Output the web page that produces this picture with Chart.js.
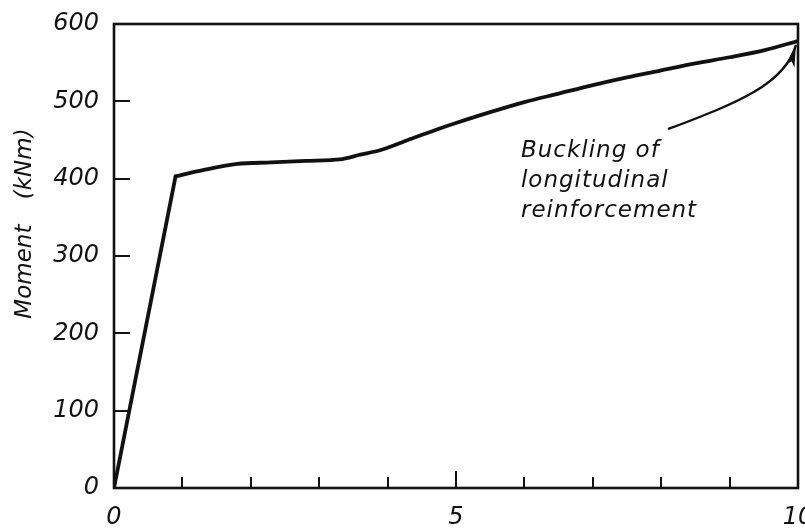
<!DOCTYPE html>
<html>
<head>
<meta charset="utf-8">
<script src="https://cdn.jsdelivr.net/npm/chart.js@4.4.1/dist/chart.umd.min.js"></script>
<style>
  html, body { margin: 0; padding: 0; background: #fff; }
</style>
</head>
<body>
<canvas id="chart" width="805" height="531"></canvas>
<script>
// Moment–rotation response of the column
const rotation = [0, 0.9, 1.3, 1.8, 2.3, 2.8, 3.3, 3.6, 3.9, 4.3, 4.7, 5.0, 5.5, 6.0, 6.5, 7.0, 7.5, 8.0, 8.5, 9.0, 9.5, 10];
const moment   = [0, 403, 411, 419, 421, 423, 425, 431, 437, 450, 463, 472, 486, 499, 510, 521, 531, 540, 549, 557, 566, 578];
// index of the yield point: straight elastic branch before it, smooth branch after it
const yieldIndex = 1;

// Axis ranges and labelled ticks
const xRange = [0, 10];
const xLabelled = [0, 5, 10];
const yRange = [0, 600];
const yStep = 100;
const yTitle = 'Moment (kNm)';

// Annotation: text anchored at a data point, arrow as a cubic curve in data units
const noteLines = ['Buckling of', 'longitudinal', 'reinforcement'];
const noteAnchor = { x: 5.95, y: 428 };
const arrowCurve = [
  { x: 8.10, y: 464 },
  { x: 9.08, y: 497 },
  { x: 9.81, y: 521 },
  { x: 9.97, y: 573 }
];

const INK = '#111';

const points = rotation.map((r, i) => ({ x: r, y: moment[i] }));

const framePlugin = {
  id: 'frame',
  afterDraw(chart) {
    const { ctx, chartArea: a, scales: { x, y } } = chart;
    ctx.save();
    ctx.strokeStyle = INK;
    ctx.lineWidth = 2.6;
    ctx.lineCap = 'square';
    ctx.strokeRect(a.left, a.top, a.right - a.left, a.bottom - a.top);

    // inward tick marks
    ctx.lineWidth = 2;
    ctx.lineCap = 'butt';
    x.ticks.forEach(t => {
      if (t.value <= xRange[0] || t.value >= xRange[1]) return;
      const px = Math.round(x.getPixelForValue(t.value));
      const len = xLabelled.includes(t.value) ? 17 : 11;
      ctx.beginPath();
      ctx.moveTo(px, a.bottom);
      ctx.lineTo(px, a.bottom - len);
      ctx.stroke();
    });
    y.ticks.forEach(t => {
      if (t.value <= yRange[0] || t.value >= yRange[1]) return;
      const py = Math.round(y.getPixelForValue(t.value));
      ctx.beginPath();
      ctx.moveTo(a.left, py);
      ctx.lineTo(a.left + 16, py);
      ctx.stroke();
    });

    // vertical axis title
    ctx.fillStyle = INK;
    ctx.font = 'italic 23px "DejaVu Sans"';
    if ('wordSpacing' in ctx) ctx.wordSpacing = '18px';
    ctx.textAlign = 'center';
    ctx.textBaseline = 'middle';
    ctx.translate(25, y.getPixelForValue(342));
    ctx.rotate(-Math.PI / 2);
    ctx.fillText(yTitle, 0, 0);
    ctx.restore();

    // annotation text
    ctx.save();
    ctx.fillStyle = INK;
    ctx.font = 'italic 23px "DejaVu Sans"';
    if ('letterSpacing' in ctx) ctx.letterSpacing = '1px';
    ctx.textAlign = 'left';
    ctx.textBaseline = 'alphabetic';
    const tx = x.getPixelForValue(noteAnchor.x);
    const ty = y.getPixelForValue(noteAnchor.y);
    noteLines.forEach((line, i) => ctx.fillText(line, tx, ty + i * 30));
    ctx.restore();

    // annotation arrow
    const p = arrowCurve.map(q => ({ x: x.getPixelForValue(q.x), y: y.getPixelForValue(q.y) }));
    ctx.save();
    ctx.strokeStyle = INK;
    ctx.fillStyle = INK;
    ctx.lineWidth = 2.4;
    ctx.beginPath();
    ctx.moveTo(p[0].x, p[0].y);
    ctx.bezierCurveTo(p[1].x, p[1].y, p[2].x, p[2].y, p[3].x, p[3].y);
    ctx.stroke();
    const ang = Math.atan2(p[3].y - p[2].y, p[3].x - p[2].x);
    const L = 22, W = 4.5;
    ctx.translate(p[3].x, p[3].y);
    ctx.rotate(ang);
    ctx.beginPath();
    ctx.moveTo(0, 0);
    ctx.lineTo(-L, -W);
    ctx.lineTo(-L + 5, 0);
    ctx.lineTo(-L, W);
    ctx.closePath();
    ctx.fill();
    ctx.restore();
  }
};

const lineStyle = {
  borderColor: INK,
  borderWidth: 3.8,
  pointRadius: 0,
  fill: false,
  borderJoinStyle: 'round',
  borderCapStyle: 'round'
};

new Chart(document.getElementById('chart'), {
  type: 'line',
  data: {
    datasets: [
      Object.assign({ data: points.slice(0, yieldIndex + 1), tension: 0 }, lineStyle),
      Object.assign({ data: points.slice(yieldIndex), tension: 0.3 }, lineStyle)
    ]
  },
  options: {
    responsive: false,
    devicePixelRatio: 1,
    animation: false,
    layout: { padding: { left: 0, right: 7, top: 24, bottom: 0 } },
    plugins: { legend: { display: false }, tooltip: { enabled: false } },
    scales: {
      x: {
        type: 'linear',
        min: xRange[0],
        max: xRange[1],
        grid: { display: false, drawTicks: false },
        border: { display: false },
        ticks: {
          stepSize: 1,
          autoSkip: false,
          maxRotation: 0,
          padding: 15,
          color: INK,
          font: { family: 'DejaVu Sans', size: 24, style: 'italic' },
          callback: v => (xLabelled.includes(v) ? String(v) : '')
        },
        afterFit(s) { s.height = 43; s.paddingLeft = 0; s.paddingRight = 0; }
      },
      y: {
        min: yRange[0],
        max: yRange[1],
        grid: { display: false, drawTicks: false },
        border: { display: false },
        ticks: {
          stepSize: yStep,
          padding: 15,
          color: INK,
          font: { family: 'DejaVu Sans', size: 24, style: 'italic' }
        },
        afterFit(s) { s.width = 114; s.paddingTop = 0; s.paddingBottom = 0; }
      }
    }
  },
  plugins: [framePlugin]
});
</script>
</body>
</html>
